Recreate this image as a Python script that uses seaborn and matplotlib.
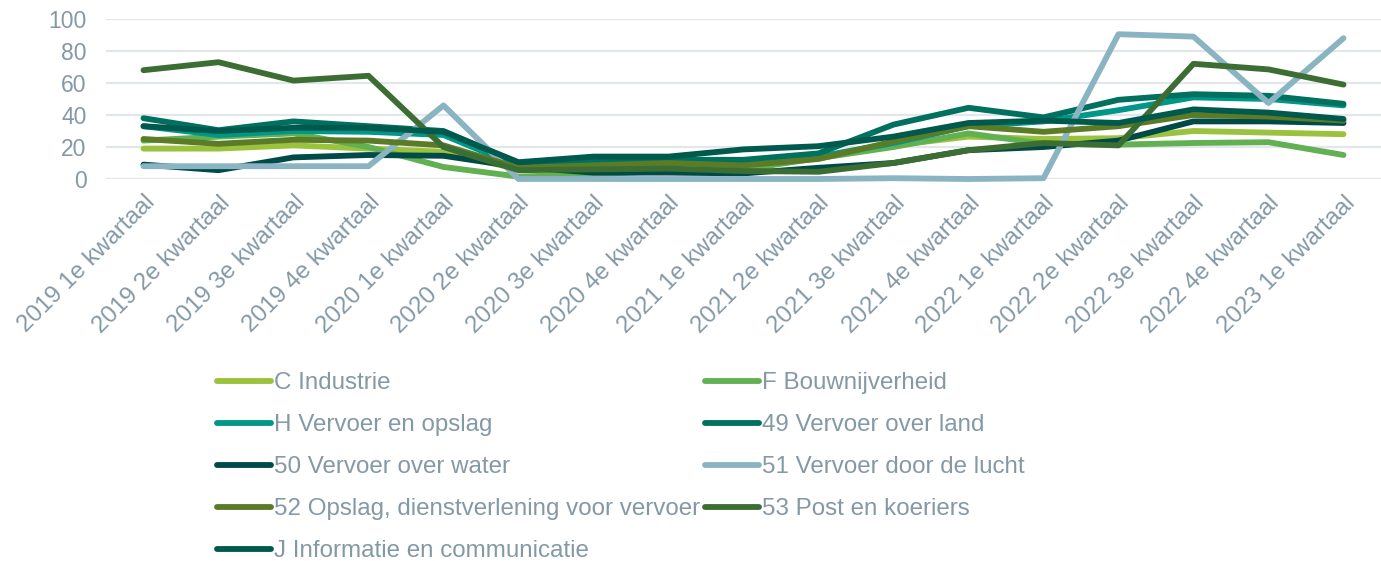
import pandas as pd
import numpy as np
import matplotlib
matplotlib.use("Agg")
import matplotlib.pyplot as plt
import seaborn as sns

# kwartalen
kwartalen = ['2019 1e kwartaal', '2019 2e kwartaal', '2019 3e kwartaal', '2019 4e kwartaal',
             '2020 1e kwartaal', '2020 2e kwartaal', '2020 3e kwartaal', '2020 4e kwartaal',
             '2021 1e kwartaal', '2021 2e kwartaal', '2021 3e kwartaal', '2021 4e kwartaal',
             '2022 1e kwartaal', '2022 2e kwartaal', '2022 3e kwartaal', '2022 4e kwartaal',
             '2023 1e kwartaal']

# reeksen
c_industrie = [19, 19, 21, 19, 17, 6, 7, 9, 8, 13, 21, 26.5, 25, 25.5, 30, 29, 28]
f_bouw = [24, 26.5, 28.5, 20, 7.5, 1.5, 3, 5, 6, 13, 20, 28.5, 22, 21.5, 22.5, 23, 15]
h_vervoer = [33, 27.5, 30, 29.5, 27.5, 8, 10, 10, 11, 14, 22.5, 33, 36, 43, 51, 50, 46]
v49_land = [38, 30.5, 36, 33, 30, 10, 12, 12, 12, 16, 34, 44.5, 38.5, 49.5, 53, 52, 47]
v50_water = [9, 5.5, 13.5, 15, 14.5, 7.5, 4, 4, 3.5, 7, 10, 18, 20, 24, 36, 36, 35]
v51_lucht = [8, 8, 8, 8, 46, 0, 0, 0, 0, 0, 0.5, 0, 0.5, 90.5, 89, 47.5, 88]
v52_opslag = [25, 22, 24.5, 24, 21, 7, 8.5, 10, 8.5, 12.5, 23.5, 33, 29.5, 33, 40, 39, 36.5]
v53_post = [68, 73, 61.5, 64.5, 20, 5.5, 6, 6.5, 5, 4.5, 10, 18, 22.5, 21, 72, 68.5, 59]
j_info = [33, 30, 32, 32, 29.5, 10.5, 14, 14, 18.5, 20.5, 26.5, 35, 36.5, 35, 43.5, 41.5, 37.5]

reeksen = ['C Industrie', 'F Bouwnijverheid', 'H Vervoer en opslag', '49 Vervoer over land',
           '50 Vervoer over water', '51 Vervoer door de lucht',
           '52 Opslag, dienstverlening voor vervoer', '53 Post en koeriers',
           'J Informatie en communicatie']
waarden = [c_industrie, f_bouw, h_vervoer, v49_land, v50_water, v51_lucht,
           v52_opslag, v53_post, j_info]
kleuren = ['#9ac23d', '#61b052', '#009688', '#00705f', '#004a47', '#8ab4c2',
           '#5b7b27', '#3c6e34', '#00594d']

df = pd.DataFrame([(r, k, v) for r, vals in zip(reeksen, waarden)
                   for k, v in zip(kwartalen, vals)],
                  columns=['reeks', 'kwartaal', 'waarde'])

sns.set_style("white")
plt.rcParams['font.family'] = ['Liberation Sans', 'DejaVu Sans']
tekstkleur = '#8499a6'

fig = plt.figure(figsize=(13.81, 5.61), dpi=100)
ax = fig.add_axes([106 / 1381, 1 - 179 / 561, 1275 / 1381, 160 / 561])

sns.lineplot(data=df, x='kwartaal', y='waarde', hue='reeks', hue_order=reeksen,
             palette=kleuren, linewidth=4.2, sort=False, ax=ax,
             solid_capstyle='round', solid_joinstyle='round', clip_on=False)

ax.set_xlim(-0.5, len(kwartalen) - 0.5)
ax.set_ylim(0, 100)
ax.set_yticks(range(0, 101, 20))
ax.grid(axis='y', color='#e3e7eb', linewidth=1.6)
ax.grid(axis='x', visible=False)
ax.set_axisbelow(True)
for s in ax.spines.values():
    s.set_visible(False)
ax.set_xlabel('')
ax.set_ylabel('')
ax.tick_params(axis='both', length=0, labelcolor=tekstkleur)
ax.tick_params(axis='y', pad=14, labelsize=16.5)
ax.tick_params(axis='x', pad=9, labelsize=17.4)
plt.setp(ax.get_xticklabels(), rotation=45, ha='right', rotation_mode='anchor')

# legenda rij voor rij, zoals in het origineel
handles, labels = ax.get_legend_handles_labels()
volgorde = [0, 2, 4, 6, 8, 1, 3, 5, 7]
leg = ax.legend([handles[i] for i in volgorde], [labels[i] for i in volgorde],
                ncol=2, frameon=False, fontsize=17.4, labelcolor=tekstkleur,
                loc='upper left', bbox_to_anchor=(217 / 1381, 1 - 372 / 561),
                bbox_transform=fig.transFigure, borderaxespad=0, borderpad=0,
                handlelength=2.25, handletextpad=0.1, columnspacing=0.2,
                labelspacing=0.83)
for h in leg.get_lines():
    h.set_linewidth(4.2)
    h.set_solid_capstyle('round')

fig.savefig('out.png', dpi=100)
